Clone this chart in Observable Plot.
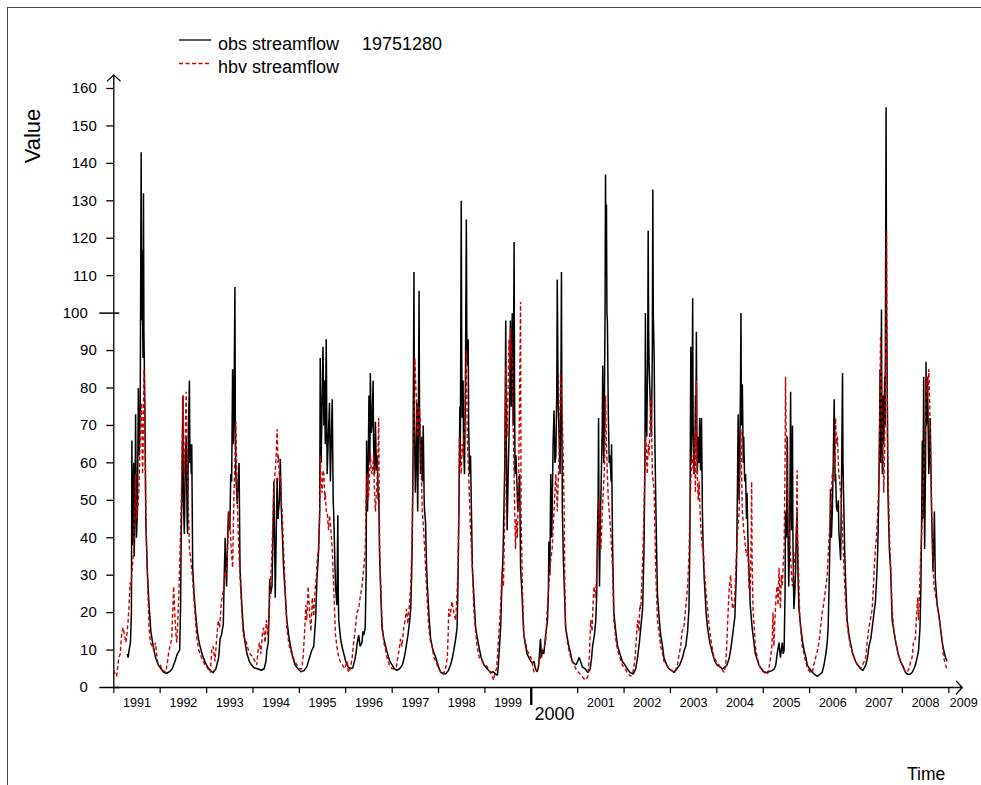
<!DOCTYPE html>
<html>
<head>
<meta charset="utf-8">
<script src="https://cdn.jsdelivr.net/npm/d3@7"></script>
<script src="https://cdn.jsdelivr.net/npm/@observablehq/plot@0.6"></script>
<style>
  body { margin: 0; background: #fff; font-family: "Liberation Sans", Arial, Helvetica, sans-serif; }
  #wrap { position: relative; width: 981px; height: 785px; overflow: hidden; background: #fff; }
  #frame { position: absolute; left: 7px; top: 7px; width: 1100px; height: 1100px; border-top: 1.5px solid #444; border-left: 1.5px solid #444; }
  #chart { position: absolute; left: 0; top: 0; }
  #overlay { position: absolute; left: 0; top: 0; pointer-events: none; }
  #overlay text { font-family: "Liberation Sans", Arial, Helvetica, sans-serif; fill: #000; }
</style>
</head>
<body>
<div id="wrap">
  <div id="frame"></div>
  <div id="chart"></div>
  <svg id="overlay" width="981" height="785"></svg>
</div>
<script>
// ---------------- data (decimal year, value) ----------------
const obsFlow = [
  [1991.29,9],[1991.31,8],[1991.33,10],[1991.36,12],[1991.38,20],[1991.39,66],[1991.40,38],[1991.41,45],[1991.43,60],[1991.44,35],[1991.46,50],[1991.47,73],[1991.49,40],[1991.51,48],[1991.53,80],[1991.55,62],[1991.57,75],[1991.59,143],[1991.60,98],[1991.61,117],[1991.63,88],[1991.64,132],[1991.65,95],[1991.67,75],[1991.69,45],[1991.72,32],[1991.76,22],[1991.80,15],[1991.85,11],[1991.90,8],[1991.96,6],[1992.02,5],[1992.08,4],[1992.14,3.8],[1992.20,4.2],[1992.26,5],[1992.32,7],[1992.37,9],
  [1992.42,10],[1992.44,22],[1992.45,37],[1992.47,55],[1992.49,78],[1992.50,50],[1992.52,41],[1992.54,60],[1992.56,67],[1992.58,45],[1992.59,41],[1992.61,70],[1992.63,82],[1992.64,60],[1992.65,65],[1992.67,57],[1992.68,65],[1992.70,32],[1992.73,25],[1992.76,20],[1992.80,15],[1992.84,12],[1992.90,9],[1992.96,7],[1993.02,5.5],[1993.08,4.5],[1993.14,4],[1993.20,5],
  [1993.26,8],[1993.29,13],[1993.32,14],[1993.36,17],[1993.38,30],[1993.40,40],[1993.42,30],[1993.43,27],[1993.45,38],[1993.47,47],[1993.50,42],[1993.52,57],[1993.54,55],[1993.56,85],[1993.58,65],[1993.59,73],[1993.61,107],[1993.62,70],[1993.63,57],[1993.66,49],[1993.68,55],[1993.70,60],[1993.72,32],[1993.75,24],[1993.79,16],[1993.83,12],[1993.87,9],[1993.92,7],[1993.97,6],[1994.03,5.2],[1994.10,5],[1994.18,4.6],[1994.24,5],
  [1994.28,7],[1994.30,10],[1994.33,12],[1994.35,22],[1994.36,29],[1994.38,25],[1994.41,27],[1994.43,40],[1994.45,55],[1994.47,35],[1994.48,24],[1994.50,40],[1994.52,56],[1994.54,45],[1994.55,47],[1994.57,50],[1994.59,61],[1994.61,48],[1994.63,42],[1994.66,32],[1994.70,24],[1994.73,18],[1994.77,14],[1994.81,11],[1994.86,8],[1994.91,6],[1994.97,5],[1995.03,4.2],[1995.10,4.5],[1995.16,5.5],
  [1995.22,8],[1995.27,10],[1995.31,11],[1995.35,18],[1995.38,29],[1995.41,35],[1995.44,47],[1995.45,88],[1995.47,60],[1995.49,75],[1995.51,91],[1995.53,70],[1995.54,82],[1995.56,65],[1995.58,93],[1995.60,57],[1995.62,65],[1995.65,76],[1995.67,55],[1995.71,77],[1995.73,50],[1995.74,47],[1995.78,27],[1995.81,22],[1995.83,46],[1995.84,25],[1995.85,18],[1995.89,13],[1995.92,11],[1995.96,9],[1996.00,7],
  [1996.05,5.5],[1996.10,5],[1996.15,5.2],[1996.19,7],[1996.22,9],[1996.25,12],[1996.28,14],[1996.31,11],[1996.35,12],[1996.37,15],[1996.39,14],[1996.42,16],[1996.44,30],[1996.45,66],[1996.46,50],[1996.47,47],[1996.49,65],[1996.50,78],[1996.52,60],[1996.53,84],[1996.55,68],[1996.57,71],[1996.59,82],[1996.60,65],[1996.62,57],[1996.64,71],[1996.66,58],[1996.68,62],[1996.70,50],[1996.71,52],[1996.73,35],[1996.75,27],[1996.78,16],[1996.82,13],[1996.86,11],[1996.90,9],[1996.95,7],[1997.00,6],
  [1997.05,5],[1997.10,4.6],[1997.16,5],[1997.22,6],[1997.26,8],[1997.29,10],[1997.34,14],[1997.38,18],[1997.40,21],[1997.42,30],[1997.43,37],[1997.45,60],[1997.47,111],[1997.48,70],[1997.50,52],[1997.52,65],[1997.53,76],[1997.55,47],[1997.56,60],[1997.58,106],[1997.59,75],[1997.61,57],[1997.63,67],[1997.65,55],[1997.67,70],[1997.69,50],[1997.70,47],[1997.72,44],[1997.74,33],[1997.76,27],[1997.80,18],[1997.83,13],[1997.88,10],[1997.94,8],[1998.00,5.5],[1998.05,4],
  [1998.10,3.8],[1998.15,3.6],[1998.21,4.5],[1998.26,6],[1998.30,8],[1998.33,10],[1998.37,13],[1998.40,16],[1998.42,28],[1998.44,47],[1998.46,75],[1998.47,60],[1998.49,130],[1998.50,90],[1998.51,72],[1998.53,82],[1998.54,65],[1998.56,57],[1998.58,80],[1998.60,125],[1998.61,95],[1998.62,86],[1998.64,93],[1998.65,70],[1998.67,57],[1998.69,62],[1998.71,47],[1998.73,32],[1998.76,25],[1998.80,16],[1998.84,13],[1998.87,11],[1998.92,8],[1998.98,6],[1999.05,5],[1999.12,4],
  [1999.18,4.2],[1999.27,3.2],[1999.29,6],[1999.31,10],[1999.34,16],[1999.37,29],[1999.39,35],[1999.41,47],[1999.43,60],[1999.45,98],[1999.46,70],[1999.48,42],[1999.50,55],[1999.52,67],[1999.54,80],[1999.55,98],[1999.57,75],[1999.59,100],[1999.61,70],[1999.63,119],[1999.64,80],[1999.65,57],[1999.67,62],[1999.69,55],[1999.71,47],[1999.73,52],[1999.75,57],[1999.77,32],[1999.80,25],[1999.81,22],[1999.84,14],[1999.88,11],[1999.91,9],[1999.95,8],[1999.99,7],
  [2000.03,6.5],[2000.06,7],[2000.09,5],[2000.13,4.2],[2000.16,6],[2000.20,13],[2000.22,8],[2000.24,10],[2000.27,9],[2000.31,14],[2000.35,18],[2000.37,26],[2000.38,39],[2000.40,30],[2000.42,57],[2000.44,40],[2000.45,47],[2000.47,65],[2000.49,74],[2000.51,60],[2000.53,62],[2000.55,80],[2000.56,109],[2000.58,75],[2000.60,67],[2000.62,57],[2000.64,85],[2000.65,111],[2000.66,70],[2000.67,47],[2000.69,35],[2000.71,27],[2000.74,16],[2000.78,13],[2000.81,11],[2000.85,9],[2000.88,7],[2000.92,6.5],[2000.96,6],[2001.00,7],[2001.03,8],[2001.06,7],[2001.10,5.5],[2001.16,5],[2001.22,4],
  [2001.27,5],[2001.30,8],[2001.32,11],[2001.36,14],[2001.39,18],[2001.41,25],[2001.42,37],[2001.44,50],[2001.45,72],[2001.46,40],[2001.47,27],[2001.49,45],[2001.51,57],[2001.53,70],[2001.54,86],[2001.56,60],[2001.57,67],[2001.59,100],[2001.60,137],[2001.61,110],[2001.62,129],[2001.63,100],[2001.64,98],[2001.66,73],[2001.68,60],[2001.70,62],[2001.72,55],[2001.73,65],[2001.75,40],[2001.76,32],[2001.78,20],[2001.82,15],[2001.86,11],[2001.91,9],[2001.96,7],[2002.02,6],[2002.07,5],[2002.13,4],[2002.20,3.6],
  [2002.25,5],[2002.29,8],[2002.33,12],[2002.36,16],[2002.40,21],[2002.43,37],[2002.45,60],[2002.46,100],[2002.47,75],[2002.49,67],[2002.51,90],[2002.52,122],[2002.53,95],[2002.54,86],[2002.56,78],[2002.58,70],[2002.59,67],[2002.61,90],[2002.62,133],[2002.63,100],[2002.65,88],[2002.66,70],[2002.68,53],[2002.70,38],[2002.72,25],[2002.76,18],[2002.79,14],[2002.83,11],[2002.86,8],[2002.92,6],[2002.97,5],[2003.03,4.5],[2003.08,4],[2003.14,5],
  [2003.20,6],[2003.26,8],[2003.30,10],[2003.33,11],[2003.37,15],[2003.40,21],[2003.42,40],[2003.44,91],[2003.45,60],[2003.46,67],[2003.47,80],[2003.48,104],[2003.49,70],[2003.51,57],[2003.53,65],[2003.54,78],[2003.55,70],[2003.56,95],[2003.57,68],[2003.58,57],[2003.60,67],[2003.62,60],[2003.63,72],[2003.65,58],[2003.67,72],[2003.69,47],[2003.71,35],[2003.73,29],[2003.77,20],[2003.80,16],[2003.85,12],[2003.91,9],[2003.96,7],[2004.01,6],[2004.07,5.5],[2004.12,5],
  [2004.18,5.5],[2004.22,6],[2004.27,8],[2004.31,11],[2004.34,14],[2004.39,19],[2004.42,30],[2004.43,37],[2004.45,60],[2004.46,73],[2004.48,50],[2004.49,57],[2004.51,80],[2004.52,100],[2004.53,70],[2004.55,81],[2004.57,60],[2004.58,67],[2004.60,55],[2004.62,57],[2004.64,45],[2004.65,52],[2004.67,40],[2004.69,32],[2004.72,22],[2004.76,16],[2004.80,12],[2004.83,9],[2004.87,7.5],[2004.91,6],[2004.96,5],[2005.01,4.2],[2005.07,4],[2005.12,4.2],
  [2005.19,4.5],[2005.24,5],[2005.27,6],[2005.30,9],[2005.34,12],[2005.37,8],[2005.41,12],[2005.43,9],[2005.45,10],[2005.47,25],[2005.48,47],[2005.50,40],[2005.52,67],[2005.53,45],[2005.55,27],[2005.57,40],[2005.59,79],[2005.60,55],[2005.61,42],[2005.63,70],[2005.64,40],[2005.66,21],[2005.68,25],[2005.70,32],[2005.71,40],[2005.73,47],[2005.75,30],[2005.77,21],[2005.81,16],[2005.85,12],[2005.88,10],[2005.92,8],[2005.95,6],[2006.00,5],[2006.06,4],
  [2006.12,3.4],[2006.17,3],[2006.22,3.5],[2006.27,4],[2006.31,6],[2006.35,9],[2006.38,12],[2006.40,16],[2006.42,27],[2006.44,40],[2006.45,53],[2006.47,40],[2006.49,47],[2006.51,60],[2006.53,77],[2006.55,55],[2006.56,57],[2006.58,48],[2006.60,47],[2006.62,50],[2006.63,42],[2006.65,38],[2006.67,34],[2006.69,57],[2006.71,84],[2006.72,60],[2006.74,47],[2006.76,35],[2006.78,27],[2006.81,18],[2006.85,14],[2006.88,12],[2006.93,9],[2006.99,7],[2007.04,6],[2007.10,5],
  [2007.15,4.5],[2007.21,6],[2007.25,8],[2007.28,11],[2007.32,13],[2007.35,16],[2007.39,20],[2007.42,23],[2007.45,30],[2007.47,37],[2007.49,50],[2007.51,70],[2007.52,85],[2007.53,60],[2007.55,101],[2007.56,70],[2007.57,57],[2007.59,78],[2007.60,65],[2007.62,83],[2007.63,70],[2007.65,155],[2007.66,100],[2007.67,88],[2007.69,52],[2007.72,37],[2007.75,31],[2007.78,18],[2007.82,15],[2007.86,12],[2007.91,9],[2007.96,7],[2008.02,5.5],[2008.07,4],
  [2008.10,3.6],[2008.16,3.5],[2008.21,4],[2008.25,5],[2008.28,6],[2008.32,8],[2008.35,10],[2008.38,16],[2008.40,27],[2008.42,50],[2008.43,66],[2008.44,45],[2008.46,83],[2008.47,60],[2008.48,37],[2008.50,60],[2008.51,87],[2008.52,70],[2008.54,83],[2008.55,75],[2008.57,57],[2008.59,65],[2008.60,72],[2008.62,55],[2008.63,47],[2008.66,31],[2008.68,40],[2008.69,47],[2008.71,29],[2008.75,22],[2008.79,19],[2008.82,16],[2008.86,12],[2008.89,10],[2008.93,8],[2008.96,7]
];

const hbvFlow = [
  [1991.00,4.6],[1991.03,3.5],[1991.06,3],[1991.09,6],[1991.11,8],[1991.14,9],[1991.16,13],[1991.18,15],[1991.20,16],[1991.23,14],[1991.26,12],[1991.29,15],[1991.31,18],[1991.33,22],[1991.35,28],[1991.37,27],[1991.40,32],[1991.43,37],[1991.45,47],[1991.47,57],[1991.49,45],[1991.51,47],[1991.54,52],[1991.56,62],[1991.58,70],[1991.60,76],[1991.62,57],[1991.63,62],[1991.65,85],[1991.67,72],[1991.69,47],[1991.72,32],[1991.76,16],[1991.79,12],[1991.83,11],[1991.86,10],[1991.90,12],[1991.94,7],
  [1992.00,6],[1992.04,5],[1992.08,4.5],[1992.12,4],[1992.16,7],[1992.18,9],[1992.21,11],[1992.25,13],[1992.27,20],[1992.29,27],[1992.31,21],[1992.34,14],[1992.36,12],[1992.38,18],[1992.40,24],[1992.43,37],[1992.45,47],[1992.47,60],[1992.49,78],[1992.50,65],[1992.52,57],[1992.54,67],[1992.56,79],[1992.58,62],[1992.60,52],[1992.63,37],[1992.66,34],[1992.69,30],[1992.72,25],[1992.76,18],[1992.79,13],[1992.83,10],[1992.86,9],[1992.92,7],[1992.97,6],[1993.03,5],[1993.08,4],
  [1993.11,10],[1993.14,11],[1993.18,7],[1993.21,12],[1993.25,18],[1993.28,16],[1993.32,23],[1993.36,26],[1993.40,31],[1993.43,30],[1993.46,40],[1993.48,47],[1993.51,42],[1993.53,37],[1993.56,32],[1993.59,52],[1993.61,60],[1993.63,71],[1993.65,57],[1993.68,42],[1993.70,35],[1993.73,27],[1993.76,20],[1993.79,14],[1993.83,13],[1993.86,12],[1993.90,10],[1993.94,9],[1994.00,8],
  [1994.04,7],[1994.08,6],[1994.11,10],[1994.14,12],[1994.17,9],[1994.20,14],[1994.23,16],[1994.26,12],[1994.29,18],[1994.32,14],[1994.35,20],[1994.37,27],[1994.40,33],[1994.43,45],[1994.45,53],[1994.48,58],[1994.50,62],[1994.52,69],[1994.54,60],[1994.55,62],[1994.57,55],[1994.59,57],[1994.61,50],[1994.63,47],[1994.66,37],[1994.70,25],[1994.73,16],[1994.77,12],[1994.80,10],[1994.84,9],[1994.90,7],[1994.95,6],[1995.00,5],
  [1995.05,5],[1995.08,8],[1995.11,14],[1995.14,22],[1995.16,18],[1995.19,27],[1995.22,20],[1995.25,15],[1995.28,24],[1995.31,19],[1995.34,26],[1995.37,30],[1995.39,35],[1995.42,37],[1995.44,48],[1995.45,62],[1995.47,55],[1995.49,52],[1995.51,58],[1995.53,57],[1995.55,50],[1995.56,52],[1995.58,47],[1995.60,47],[1995.63,42],[1995.65,46],[1995.67,44],[1995.71,37],[1995.74,27],[1995.78,14],[1995.81,11],[1995.85,8],[1995.88,7],[1995.93,6],[1995.98,5],
  [1996.03,7],[1996.06,4],[1996.10,5],[1996.14,8],[1996.17,12],[1996.21,16],[1996.24,20],[1996.28,21],[1996.31,24],[1996.35,27],[1996.39,32],[1996.42,37],[1996.44,50],[1996.46,57],[1996.48,50],[1996.50,52],[1996.53,63],[1996.55,58],[1996.57,57],[1996.60,62],[1996.62,52],[1996.64,47],[1996.66,52],[1996.68,57],[1996.70,65],[1996.71,72],[1996.73,37],[1996.76,25],[1996.78,18],[1996.82,12],[1996.86,10],[1996.89,8],[1996.94,6],[1997.00,5],
  [1997.05,5],[1997.09,5.5],[1997.12,8],[1997.15,10],[1997.18,13],[1997.21,11],[1997.25,16],[1997.28,18],[1997.31,21],[1997.34,17],[1997.37,22],[1997.40,27],[1997.43,40],[1997.45,57],[1997.47,70],[1997.49,88],[1997.51,80],[1997.52,78],[1997.54,70],[1997.55,67],[1997.58,75],[1997.60,72],[1997.63,57],[1997.65,47],[1997.68,42],[1997.70,37],[1997.74,27],[1997.77,20],[1997.79,16],[1997.83,12],[1997.86,11],[1997.90,8],[1997.94,7],[1998.00,5],
  [1998.05,4],[1998.10,3.5],[1998.15,5],[1998.19,8],[1998.21,15],[1998.22,21],[1998.25,19],[1998.29,23],[1998.33,20],[1998.37,18],[1998.40,25],[1998.42,32],[1998.44,50],[1998.45,67],[1998.47,60],[1998.49,57],[1998.51,65],[1998.53,62],[1998.56,70],[1998.58,78],[1998.60,90],[1998.62,67],[1998.65,57],[1998.69,42],[1998.73,32],[1998.76,21],[1998.80,15],[1998.83,11],[1998.88,8],[1998.94,7],[1999.00,6],[1999.05,5.6],[1999.12,4],
  [1999.16,3],[1999.19,2],[1999.22,4],[1999.25,5],[1999.27,8],[1999.30,14],[1999.33,20],[1999.35,25],[1999.37,31],[1999.40,27],[1999.42,40],[1999.44,60],[1999.45,86],[1999.47,75],[1999.48,67],[1999.50,80],[1999.52,93],[1999.54,85],[1999.55,96],[1999.57,90],[1999.59,88],[1999.61,70],[1999.63,57],[1999.66,37],[1999.68,45],[1999.70,40],[1999.72,50],[1999.73,57],[1999.75,80],[1999.77,103],[1999.78,47],[1999.81,27],[1999.84,14],[1999.88,12],[1999.91,10],[1999.95,9],[1999.99,8],
  [2000.03,6],[2000.06,4],[2000.10,4.5],[2000.14,5],[2000.17,7],[2000.20,8],[2000.24,10],[2000.28,11],[2000.31,12],[2000.34,20],[2000.36,24],[2000.38,27],[2000.41,33],[2000.43,35],[2000.45,37],[2000.48,45],[2000.50,50],[2000.53,57],[2000.55,52],[2000.56,47],[2000.58,55],[2000.60,62],[2000.62,75],[2000.63,84],[2000.65,78],[2000.67,72],[2000.69,60],[2000.71,47],[2000.72,30],[2000.74,16],[2000.78,12],[2000.81,10],[2000.85,8],[2000.88,7],[2000.92,6],[2000.96,5],[2001.02,4],[2001.06,3.5],[2001.12,2.5],[2001.17,2],
  [2001.22,3],[2001.25,8],[2001.28,18],[2001.31,15],[2001.33,22],[2001.35,27],[2001.38,24],[2001.42,32],[2001.44,40],[2001.46,50],[2001.48,42],[2001.50,37],[2001.53,47],[2001.55,52],[2001.57,57],[2001.59,65],[2001.60,78],[2001.62,65],[2001.64,57],[2001.66,50],[2001.68,47],[2001.71,42],[2001.75,32],[2001.78,18],[2001.82,13],[2001.86,10],[2001.91,8],[2001.96,6],[2002.02,5],[2002.07,4],[2002.14,3],
  [2002.19,4],[2002.23,7],[2002.26,12],[2002.29,18],[2002.32,15],[2002.34,22],[2002.36,21],[2002.39,30],[2002.41,38],[2002.43,47],[2002.45,60],[2002.47,67],[2002.49,60],[2002.50,57],[2002.52,65],[2002.54,62],[2002.56,70],[2002.58,78],[2002.60,65],[2002.61,57],[2002.63,55],[2002.65,52],[2002.67,40],[2002.68,32],[2002.72,18],[2002.76,14],[2002.79,11],[2002.83,9],[2002.86,7],[2002.92,6],[2002.97,5],[2003.03,4.5],[2003.08,4],
  [2003.12,5],[2003.15,6],[2003.19,9],[2003.22,11],[2003.25,15],[2003.29,16],[2003.32,20],[2003.35,24],[2003.37,27],[2003.40,35],[2003.42,47],[2003.44,55],[2003.46,62],[2003.48,60],[2003.50,57],[2003.52,68],[2003.54,52],[2003.56,82],[2003.58,57],[2003.60,50],[2003.62,55],[2003.64,47],[2003.66,42],[2003.69,37],[2003.71,38],[2003.73,32],[2003.77,25],[2003.80,21],[2003.84,16],[2003.87,13],[2003.91,10],[2003.94,8],[2003.99,7],[2004.05,6],[2004.10,5],[2004.16,4],
  [2004.19,6],[2004.21,10],[2004.23,16],[2004.25,22],[2004.27,27],[2004.30,30],[2004.32,24],[2004.34,21],[2004.37,22],[2004.39,25],[2004.42,35],[2004.45,42],[2004.48,47],[2004.50,60],[2004.52,69],[2004.53,60],[2004.55,47],[2004.58,42],[2004.60,40],[2004.62,37],[2004.65,35],[2004.67,38],[2004.69,27],[2004.72,25],[2004.74,40],[2004.75,55],[2004.76,35],[2004.78,21],[2004.81,15],[2004.83,11],[2004.87,8],[2004.91,6],[2004.95,5],[2004.98,4.6],[2005.05,3.6],
  [2005.09,3.6],[2005.12,5],[2005.16,8],[2005.19,12],[2005.21,20],[2005.23,11],[2005.25,18],[2005.28,25],[2005.30,27],[2005.32,22],[2005.34,32],[2005.37,21],[2005.39,30],[2005.41,27],[2005.43,33],[2005.45,37],[2005.47,60],[2005.48,83],[2005.49,70],[2005.50,67],[2005.53,47],[2005.56,42],[2005.58,37],[2005.61,30],[2005.63,27],[2005.66,32],[2005.68,35],[2005.70,37],[2005.72,45],[2005.73,58],[2005.74,40],[2005.76,32],[2005.79,18],[2005.84,11],[2005.88,9],[2005.91,7],[2005.96,5],[2006.02,4],
  [2006.06,4],[2006.09,6],[2006.13,8],[2006.17,10],[2006.20,12],[2006.23,15],[2006.27,20],[2006.30,22],[2006.33,25],[2006.35,27],[2006.38,30],[2006.40,35],[2006.42,40],[2006.45,47],[2006.47,52],[2006.49,57],[2006.51,55],[2006.53,62],[2006.55,60],[2006.56,72],[2006.58,65],[2006.60,67],[2006.62,60],[2006.63,57],[2006.65,55],[2006.67,52],[2006.69,47],[2006.71,42],[2006.74,32],[2006.77,24],[2006.80,18],[2006.84,14],[2006.88,11],[2006.93,9],[2006.99,7],[2007.05,5.5],[2007.10,5],
  [2007.14,6],[2007.18,7],[2007.21,8],[2007.24,12],[2007.28,16],[2007.31,18],[2007.35,21],[2007.38,28],[2007.40,33],[2007.42,37],[2007.44,40],[2007.46,44],[2007.48,50],[2007.50,57],[2007.52,80],[2007.53,94],[2007.55,80],[2007.57,67],[2007.59,60],[2007.60,52],[2007.62,65],[2007.63,78],[2007.65,100],[2007.66,122],[2007.67,90],[2007.68,67],[2007.71,47],[2007.73,38],[2007.75,32],[2007.78,21],[2007.82,15],[2007.86,12],[2007.91,9],[2007.96,7],[2008.02,5.5],[2008.07,4],
  [2008.10,4],[2008.14,5],[2008.18,7],[2008.21,8],[2008.24,12],[2008.28,13],[2008.31,20],[2008.33,24],[2008.35,18],[2008.38,30],[2008.40,37],[2008.42,42],[2008.44,50],[2008.46,57],[2008.48,65],[2008.50,73],[2008.52,80],[2008.53,83],[2008.55,78],[2008.57,85],[2008.59,75],[2008.60,67],[2008.62,55],[2008.64,42],[2008.66,35],[2008.68,27],[2008.71,25],[2008.75,22],[2008.78,20],[2008.82,16],[2008.86,12],[2008.89,8],[2008.93,6],[2008.97,4.5]
];

const yTickValues = [10, 20, 30, 40, 50, 60, 70, 80, 90, 110, 120, 130, 140, 150, 160];
const yMajorTicks = [0, 100];
const tickYears = [1991, 1992, 1993, 1994, 1995, 1996, 1997, 1998, 1999, 2000, 2001, 2002, 2003, 2004, 2005, 2006, 2007, 2008, 2009];
const yearLabels = ["1991", "1992", "1993", "1994", "1995", "1996", "1997", "1998", "1999", "2001", "2002", "2003", "2004", "2005", "2006", "2007", "2008"];
const bigYearLabel = "2000";
const endYearLabel = "2009";
const seriesNames = ["obs streamflow", "hbv streamflow"];
const stationId = "19751280";

// ---------------- helpers ----------------
const toDate = t => {
  const y = Math.floor(t + 1e-9);
  const s = Date.UTC(y, 0, 1), e = Date.UTC(y + 1, 0, 1);
  return new Date(s + (t - y) * (e - s));
};
const obsData = obsFlow.map(([t, v]) => ({date: toDate(t), value: v}));
const hbvData = hbvFlow.map(([t, v]) => ({date: toDate(t), value: v}));
const font = '"Liberation Sans", Arial, Helvetica, sans-serif';

const chart = Plot.plot({
  width: 981,
  height: 785,
  marginLeft: 113.3,
  marginRight: 32.7,
  marginTop: 88,
  marginBottom: 98,
  x: {type: "utc", domain: [toDate(1991), toDate(2009)]},
  y: {domain: [0, 160]},
  style: {fontFamily: font, fontSize: "15px", color: "#000", background: "transparent", overflow: "visible"},
  marks: [
    // axis lines with open arrow heads
    Plot.arrow([0], {x1: () => toDate(1991), y1: () => 0, x2: () => toDate(2009.29), y2: () => 0,
      stroke: "#000", strokeWidth: 1.3, headLength: 10, headAngle: 95}),
    Plot.arrow([0], {x1: () => toDate(1991), y1: () => 0, x2: () => toDate(1991), y2: () => 163.6,
      stroke: "#000", strokeWidth: 1.3, headLength: 10, headAngle: 95}),
    // y axis (regular ticks)
    Plot.axisY({ticks: yTickValues, tickSize: 7, tickPadding: 10, label: null, fontSize: 15, strokeWidth: 1.3}),
    // y axis (long ticks at 0 and 100)
    Plot.axisY({ticks: yMajorTicks, tickSize: 20, dx: 6, tickPadding: 12, label: null, fontSize: 15, strokeWidth: 1.5}),
    // x axis ticks
    Plot.axisX({ticks: tickYears.map(toDate), tickSize: 6, tickFormat: () => "", label: null, strokeWidth: 1.2}),
    Plot.axisX({ticks: [toDate(2000)], tickSize: 18, tickFormat: () => "", label: null, strokeWidth: 2.4}),
    // year labels centred in each year
    Plot.text(yearLabels, {x: d => toDate(+d + 0.5), frameAnchor: "bottom", dy: 19, lineAnchor: "bottom", fontSize: 12.5, fill: "#000"}),
    Plot.text([bigYearLabel], {x: d => toDate(+d + 0.5), frameAnchor: "bottom", dy: 32, lineAnchor: "bottom", fontSize: 18, fill: "#000"}),
    Plot.text([endYearLabel], {x: d => toDate(+d), frameAnchor: "bottom", dy: 19, dx: 1, lineAnchor: "bottom", textAnchor: "start", fontSize: 12.5, fill: "#000"}),
    // series
    Plot.line(obsData, {x: "date", y: "value", stroke: "#000", strokeWidth: 1.5, strokeLinejoin: "miter", strokeLinecap: "butt"}),
    Plot.line(hbvData, {x: "date", y: "value", stroke: "#cd0000", strokeWidth: 1.4, strokeDasharray: "4,2.5", strokeLinejoin: "miter", strokeLinecap: "butt"})
  ]
});
document.getElementById("chart").appendChild(chart);

// ---------------- legend & titles ----------------
const ov = d3.select("#overlay");
ov.append("line").attr("x1", 179).attr("x2", 211).attr("y1", 40).attr("y2", 40).attr("stroke", "#000").attr("stroke-width", 1.3);
ov.append("text").attr("x", 218).attr("y", 50).attr("font-size", 18).text(seriesNames[0]);
ov.append("text").attr("x", 362).attr("y", 50).attr("font-size", 18).text(stationId);
ov.append("line").attr("x1", 179).attr("x2", 211).attr("y1", 63.5).attr("y2", 63.5).attr("stroke", "#cd0000").attr("stroke-width", 1.3).attr("stroke-dasharray", "4,2.5");
ov.append("text").attr("x", 218).attr("y", 73).attr("font-size", 18).text(seriesNames[1]);
ov.append("text").attr("transform", "translate(40,136) rotate(-90)").attr("text-anchor", "middle").attr("font-size", 22).text("Value");
ov.append("text").attr("x", 907).attr("y", 780).attr("font-size", 17.5).text("Time");
</script>
</body>
</html>
